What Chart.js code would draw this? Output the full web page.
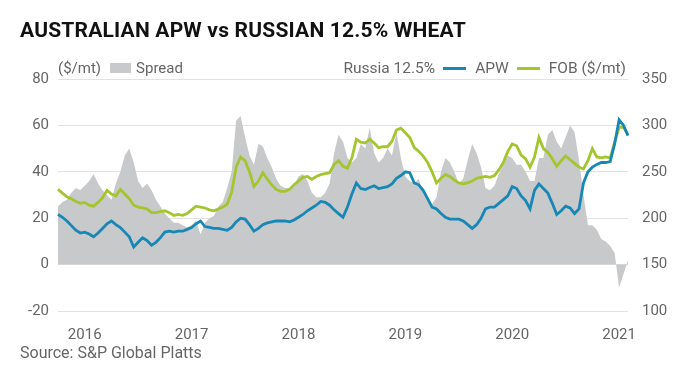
<!DOCTYPE html>
<html>
<head>
<meta charset="utf-8">
<script src="https://cdn.jsdelivr.net/npm/chart.js"></script>
<style>
  body { margin: 0; background: #fff; font-family: Roboto, "Noto Sans", sans-serif; }
  #wrap { position: relative; width: 680px; height: 372px; overflow: hidden; }
  #chart { position: absolute; left: 0; top: 0; }
  .title { position: absolute; left: 20px; top: 18px; font-size: 21px; font-weight: 700; color: #111; letter-spacing: 0.2px; white-space: nowrap; }
  .legend { position: absolute; top: 59px; height: 18px; font-size: 15.5px; color: #666; display: flex; align-items: center; white-space: nowrap; }
  .box { display: inline-block; width: 21px; height: 10px; background: #c8c9cb; margin: 0 5px 0 9px; }
  .ln { display: inline-block; width: 23px; height: 3px; margin: 0 9px 0 8px; }
  .source { position: absolute; left: 20px; top: 343px; font-size: 16px; color: #666; white-space: nowrap; }
</style>
</head>
<body>
<div id="wrap">
  <canvas id="chart" width="680" height="372"></canvas>
  <div class="title">AUSTRALIAN APW vs RUSSIAN 12.5% WHEAT</div>
  <div class="legend" style="left:58px; font-size:15px;">($/mt)<span class="box"></span>Spread</div>
  <div class="legend" style="right:54px;">Russia 12.5%<span class="ln" style="background:#1787b5"></span>APW<span class="ln" style="background:#a3c52e"></span>FOB ($/mt)</div>
  <div class="source">Source: S&amp;P Global Platts</div>
</div>
<script>
// semi-monthly readings, Oct 2015 - Feb 2021
const startYear = 2015;
const startMonth = 10;

// APW (green), $/mt, right axis
const apw = [
  231, 227, 223, 221, 218, 216, 217, 214, 213, 217, 222, 230, 226, 224, 231, 226, 221, 214, 212, 211, 210, 206, 206, 207, 208, 206, 203,
  204, 203, 205, 209, 213, 212, 211, 209, 208, 210, 212, 215, 228, 255, 266, 262, 250, 234, 240, 249, 242, 236, 231, 229, 229, 231, 236,
  240, 244, 245, 242, 245, 247, 248, 249, 258, 262, 256, 254, 265, 285, 282, 281, 285, 281, 276, 277, 277, 283, 295, 297, 292, 287, 276,
  272, 267, 260, 250, 238, 243, 247, 245, 241, 238, 237, 238, 240, 243, 244, 245, 244, 246, 252, 260, 272, 280, 278, 268, 264, 255,
  266, 287, 275, 271, 264, 256, 262, 267, 263, 259, 255, 253, 262, 275, 266, 265, 266, 265, 282, 298, 298, 290
];

// Russia 12.5% FOB (blue), $/mt, right axis
const russia = [
  204, 201, 197, 192, 187, 184, 185, 183, 180, 184, 189, 194, 197, 193, 190, 185, 180, 169, 174, 179, 176, 171, 174, 179, 185, 186, 185,
  186, 186, 188, 190, 194, 197, 191, 190, 189, 189, 188, 187, 190, 196, 200, 199, 193, 186, 189, 193, 195, 196, 197, 197, 197, 196, 198,
  201, 204, 208, 211, 214, 218, 217, 214, 209, 205, 201, 212, 226, 238, 232, 231, 233, 235, 232, 233, 234, 237, 243, 246, 250, 249, 238,
  236, 230, 221, 212, 210, 205, 201, 199, 199, 199, 197, 193, 189, 193, 200, 210, 212, 212, 216, 220, 224, 234, 232, 224, 219, 210,
  230, 237, 232, 227, 216, 204, 208, 213, 211, 205, 210, 238, 250, 255, 258, 260, 260, 261, 280, 306, 300, 289
];

// Spread, $/mt, left axis
const spread = [
  25, 27, 28, 31, 33, 32, 34, 36, 39, 35, 32, 30, 28, 35, 40, 47, 50, 44, 36, 33, 35, 32, 28, 25, 22, 20, 18,
  18, 17, 16, 17, 19, 13, 18, 20, 21, 25, 27, 33, 40, 62, 64, 55, 47, 43, 52, 51, 46, 42, 37, 34, 33, 33, 34,
  38, 39, 36, 31, 29, 29, 31, 35, 48, 56, 53, 46, 44, 46, 52, 50, 59, 48, 44, 46, 50, 47, 57, 46, 38, 36, 35,
  37, 31, 28, 26, 29, 40, 46, 44, 40, 35, 37, 45, 52, 48, 42, 33, 32, 34, 39, 43, 47, 46, 43, 43, 40, 36,
  36, 46, 46, 56, 58, 53, 50, 55, 60, 57, 45, 30, 17, 17, 15, 11, 10, 8, 5, -10, -4, 2
];

const periods = [];
for (let y = startYear, m = startMonth; periods.length < spread.length; m++) {
  if (m > 12) { m = 1; y++; }
  const mm = String(m).padStart(2, '0');
  periods.push(y + '-' + mm + '-01', y + '-' + mm + '-16');
}
periods.length = spread.length;

const tickFont = { family: 'Roboto', size: 15 };

new Chart(document.getElementById('chart'), {
  type: 'line',
  data: {
    labels: periods,
    datasets: [
      { label: 'Russia 12.5% FOB', data: russia, yAxisID: 'y2', borderColor: '#1787b5', borderWidth: 2.8, pointRadius: 0, tension: 0, order: 1 },
      { label: 'APW', data: apw, yAxisID: 'y2', borderColor: '#a3c52e', borderWidth: 2.8, pointRadius: 0, tension: 0, order: 2 },
      { label: 'Spread', data: spread, yAxisID: 'y', borderWidth: 0, borderColor: '#c8c9cb', backgroundColor: '#c8c9cb', fill: 'origin', pointRadius: 0, tension: 0, order: 3 }
    ]
  },
  options: {
    responsive: false,
    animation: false,
    layout: { padding: { top: 79, bottom: 31, left: 0, right: 0 } },
    plugins: { legend: { display: false }, tooltip: { enabled: false } },
    scales: {
      x: {
        grid: { display: false },
        border: { display: false },
        ticks: {
          autoSkip: false, maxRotation: 0, padding: 7, color: '#666', font: tickFont,
          callback: (v, i) => periods[i].endsWith('-01-01') ? periods[i].slice(0, 4) : ''
        },
        afterFit: s => { s.height = 30; }
      },
      y: {
        position: 'left', min: -20, max: 80,
        grid: { color: '#e2e2e2', drawTicks: false },
        border: { display: false },
        ticks: { stepSize: 20, padding: 9, color: '#666', font: tickFont },
        afterFit: s => { s.width = 58; }
      },
      y2: {
        position: 'right', min: 100, max: 350,
        grid: { display: false },
        border: { display: false },
        ticks: { stepSize: 50, padding: 6, color: '#666', font: tickFont },
        afterFit: s => { s.width = 52; }
      }
    }
  }
});
</script>
</body>
</html>
